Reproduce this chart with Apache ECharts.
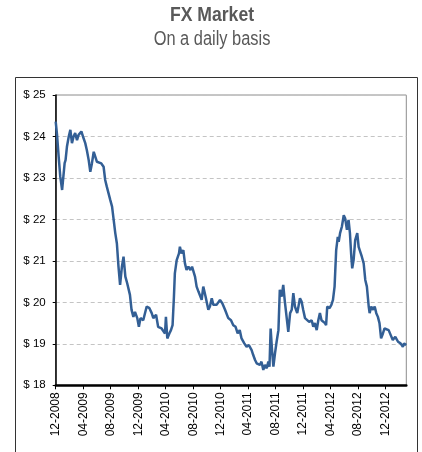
<!DOCTYPE html>
<html>
<head>
<meta charset="utf-8">
<script src="https://cdn.jsdelivr.net/npm/echarts@6/dist/echarts.min.js"></script>
<style>html,body{margin:0;padding:0;background:#fff}#c{width:422px;height:452px}</style>
</head>
<body>
<div id="c"></div>
<script>
var titleText = 'FX Market';
var subtitleText = 'On a daily basis';
var yTicks = [18, 19, 20, 21, 22, 23, 24, 25];
var xTickDates = ['2008-12-01','2009-04-01','2009-08-01','2009-12-01','2010-04-01','2010-08-01','2010-12-01','2011-04-01','2011-08-01','2011-12-01','2012-04-01','2012-08-01','2012-12-01'];
var dates = [
'2008-12-01','2008-12-07','2008-12-14','2008-12-21','2008-12-29','2009-01-06','2009-01-10','2009-01-14','2009-01-20','2009-01-28',
'2009-02-05','2009-02-12','2009-02-19','2009-02-26','2009-03-04','2009-03-11','2009-03-23','2009-03-30','2009-04-10','2009-04-17',
'2009-04-25','2009-05-02','2009-05-09','2009-05-17','2009-05-24','2009-06-01','2009-06-08','2009-06-20','2009-06-30','2009-07-07',
'2009-07-14','2009-07-29','2009-08-07','2009-08-14','2009-08-21','2009-08-28','2009-09-05','2009-09-12','2009-09-20','2009-09-27',
'2009-10-05','2009-10-13','2009-10-25','2009-11-02','2009-11-10','2009-11-17','2009-11-27','2009-12-04','2009-12-11','2009-12-23',
'2010-01-08','2010-01-20','2010-01-30','2010-02-07','2010-02-19','2010-02-28','2010-03-13','2010-03-20','2010-03-28','2010-04-02',
'2010-04-08','2010-04-17','2010-04-24','2010-05-01','2010-05-07','2010-05-11','2010-05-19','2010-05-29','2010-06-03','2010-06-10',
'2010-06-18','2010-06-25','2010-07-02','2010-07-10','2010-07-19','2010-07-26','2010-08-09','2010-08-16','2010-08-24','2010-09-01',
'2010-09-08','2010-09-15','2010-09-25','2010-10-07','2010-10-14','2010-10-22','2010-10-29','2010-11-13','2010-11-28','2010-12-08',
'2010-12-20','2011-01-04','2011-01-16','2011-01-26','2011-02-06','2011-02-15','2011-02-24','2011-03-02','2011-03-14','2011-03-24',
'2011-04-04','2011-04-16','2011-04-23','2011-05-01','2011-05-08','2011-05-15','2011-05-22','2011-05-29','2011-06-07','2011-06-14',
'2011-06-22','2011-06-29','2011-07-04','2011-07-09','2011-07-15','2011-07-21','2011-07-28','2011-08-05','2011-08-13','2011-08-19',
'2011-08-27','2011-09-04','2011-09-11','2011-09-19','2011-09-26','2011-10-04','2011-10-11','2011-10-18','2011-10-25','2011-11-05',
'2011-11-17','2011-11-24','2011-12-01','2011-12-09','2011-12-16','2011-12-27','2012-01-08','2012-01-15','2012-01-22','2012-01-30',
'2012-02-07','2012-02-14','2012-02-21','2012-02-28','2012-03-06','2012-03-11','2012-03-16','2012-03-26','2012-04-04','2012-04-11',
'2012-04-18','2012-04-25','2012-05-02','2012-05-06','2012-05-12','2012-05-20','2012-05-28','2012-06-04','2012-06-12','2012-06-19',
'2012-06-25','2012-07-01','2012-07-05','2012-07-11','2012-07-18','2012-07-27','2012-08-03','2012-08-10','2012-08-17','2012-08-25',
'2012-09-02','2012-09-09','2012-09-17','2012-09-21','2012-09-28','2012-10-06','2012-10-13','2012-10-20','2012-10-27','2012-11-04',
'2012-11-11','2012-11-19','2012-11-26','2012-12-04','2012-12-14','2012-12-23','2013-01-02','2013-01-13','2013-01-25','2013-02-06',
'2013-02-16','2013-02-21','2013-03-01'
];
var prices = [
24.36,24.03,23.51,23.03,22.71,22.71,23.36,23.43,23.75,24.00,
24.16,23.84,24.00,24.08,23.91,24.04,24.12,24.00,23.84,23.67,
23.43,23.15,23.35,23.63,23.51,23.39,23.43,23.35,23.27,22.95,
22.79,22.47,22.31,21.99,21.67,21.42,20.86,20.42,20.86,21.10,
20.62,20.46,20.18,19.82,19.65,19.77,19.62,19.41,19.62,19.57,
19.90,19.86,19.74,19.62,19.70,19.41,19.37,19.33,19.25,19.65,
19.13,19.25,19.33,19.45,20.14,20.70,21.02,21.18,21.34,21.18,
21.26,20.94,20.78,20.86,20.78,20.86,20.62,20.38,20.26,20.30,
20.06,20.38,20.14,19.82,19.90,20.10,19.94,19.94,20.06,19.98,
19.82,19.62,19.57,19.45,19.41,19.25,19.33,19.13,19.01,18.93,
18.97,18.85,18.73,18.61,18.53,18.57,18.49,18.57,18.37,18.49,
18.41,18.57,18.45,19.37,18.85,18.45,18.77,19.05,19.33,20.30,
20.14,20.42,20.02,19.98,19.29,19.74,19.82,20.22,19.90,19.74,
20.10,20.02,19.82,19.62,19.65,19.53,19.57,19.41,19.50,19.33,
19.57,19.74,19.57,19.53,19.50,19.45,19.90,19.86,19.94,20.06,
20.38,21.26,21.58,21.46,21.67,21.83,22.10,22.03,21.75,21.99,
21.67,21.10,20.82,21.02,21.50,21.67,21.34,21.30,21.10,20.94,
20.54,20.38,19.90,19.74,19.90,19.82,19.90,19.74,19.65,19.50,
19.13,19.25,19.37,19.41,19.33,19.21,19.09,19.17,19.05,19.01,
18.93,19.01,18.97
];

function toMonth(s) {
  var p = s.split('-');
  return (+p[0] - 2008) * 12 + (+p[1] - 12) + (+p[2] - 1) / 30;
}
function monthLabel(m) {
  var total = 2008 * 12 + 11 + Math.round(m);
  var y = Math.floor(total / 12), mo = total % 12 + 1;
  return (mo < 10 ? '0' : '') + mo + '-' + y;
}
var seriesData = dates.map(function (d, i) { return [toMonth(d), prices[i]]; });
var xTickValues = xTickDates.map(toMonth);

var chart = echarts.init(document.getElementById('c'), null, {renderer: 'canvas'});
chart.setOption({
  animation: false,
  backgroundColor: '#fff',
  graphic: [
    {type: 'text', x: 212, y: 15.5, scaleX: 0.88, style: {x: 0, y: 0, text: titleText, align: 'center', verticalAlign: 'middle', font: 'bold 20px "Liberation Sans", sans-serif', fill: '#595959'}},
    {type: 'text', x: 212, y: 39.5, scaleX: 0.82, style: {x: 0, y: 0, text: subtitleText, align: 'center', verticalAlign: 'middle', font: '20px "Liberation Sans", sans-serif', fill: '#595959'}},
    {type: 'rect', shape: {x: 15.5, y: 77.5, width: 402, height: 420}, style: {fill: 'none', stroke: '#333', lineWidth: 1}, silent: true}
  ],
  grid: {left: 55.7, top: 95, right: 15.7, bottom: 66.7, show: true, borderColor: '#8c8c8c', borderWidth: 1, backgroundColor: 'transparent'},
  xAxis: {
    type: 'value', min: 0, max: 51,
    axisLine: {lineStyle: {color: '#000', width: 2.5}},
    axisTick: {show: true, length: 4, lineStyle: {color: '#000', width: 1}, customValues: xTickValues},
    axisLabel: {rotate: 90, fontSize: 12, color: '#000', fontFamily: 'Liberation Sans', margin: 7, customValues: xTickValues, formatter: function (v) { return monthLabel(v); }},
    splitLine: {show: false}
  },
  yAxis: {
    type: 'value', min: 18, max: 25, interval: 1,
    axisLine: {show: true, lineStyle: {color: '#000', width: 1.5}},
    axisTick: {show: true, length: 3, lineStyle: {color: '#000'}},
    axisLabel: {fontSize: 11.5, color: '#000', fontFamily: 'Liberation Sans', margin: 10, formatter: function (v) { return '$ ' + v; }},
    splitLine: {show: true, lineStyle: {color: '#c4c4c4', type: [4, 3], width: 1}}
  },
  series: [{
    type: 'line', data: seriesData, showSymbol: false, symbol: 'none',
    lineStyle: {color: '#335f95', width: 2.5}, z: 3
  }]
});
</script>
</body>
</html>
